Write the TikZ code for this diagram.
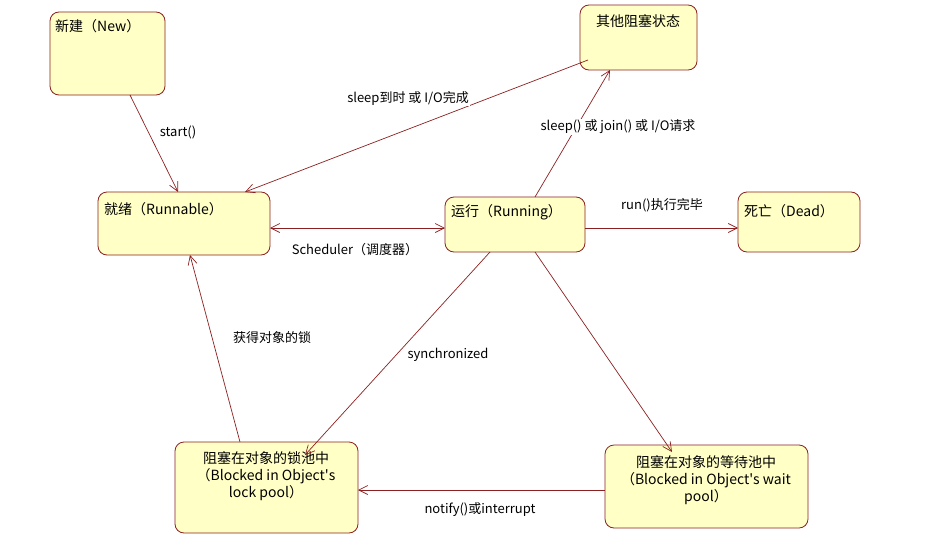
\documentclass[tikz,border=0pt]{standalone}
\usepackage{fontspec}
\setmainfont{Noto Sans CJK SC}
\usetikzlibrary{arrows.meta,calc}
\definecolor{bd}{HTML}{8B2020}
\definecolor{fl}{HTML}{FFFFC6}
\begin{document}
\begin{tikzpicture}[x=1pt,y=-1pt,
  st/.style={draw=bd,fill=fl,rounded corners=9pt,line width=0.8pt},
  tx/.style={font=\fontsize{14}{17}\selectfont,inner sep=0pt},
  lb/.style={font=\fontsize{13}{15}\selectfont,inner sep=1pt,fill=white},
  ar/.style={draw=bd,line width=0.7pt,-{Straight Barb[length=9pt,width=9pt]}}]
\useasboundingbox (0,0) rectangle (934,546);
\path[st] (50,12) rectangle (165,95);
\coordinate (new) at (107,53);
\path[st] (580,5) rectangle (697,70); \coordinate (oth) at (638,37);
\path[st] (98,192) rectangle (270,255); \coordinate (rbl) at (184,223);
\path[st] (445,197) rectangle (585,252); \coordinate (run) at (515,224);
\path[st] (738,192) rectangle (860,252); \coordinate (ded) at (799,222);
\path[st] (175,442) rectangle (358,533); \coordinate (lck) at (266,487);
\path[st] (605,445) rectangle (808,528); \coordinate (wat) at (706,486);
\node[tx,anchor=north west] (t1) at (55,19) {新建（New）};
\node[tx,anchor=north] (t2) at (638,14) {其他阻塞状态};
\node[tx,anchor=north west] (t3) at (104,202) {就绪（Runnable）};
\node[tx,anchor=north west] (t4) at (451,204) {运行（Running）};
\node[tx,anchor=north west] (t5) at (744,204) {死亡（Dead）};
\node[tx,anchor=north,align=center] (t6) at (266,451) {阻塞在对象的锁池中\\（Blocked in Object\textquotesingle s\\lock pool）};
\node[tx,anchor=north,align=center] (t7) at (706,455) {阻塞在对象的等待池中\\（Blocked in Object\textquotesingle s wait\\pool）};
\coordinate (a1) at (130,95); \coordinate (b1) at (178,192);
\draw[ar] (a1) -- (b1);
\node[lb] (l1) at (178,132) {start()};
\coordinate (a2) at (588,60); \coordinate (b2) at (245,192);
\draw[ar] (a2) -- (b2);
\node[lb] (l2) at (408,98) {sleep到时 或 I/O完成};
\coordinate (a3) at (535,197); \coordinate (b3) at (610,70);
\draw[ar] (a3) -- (b3);
\node[lb] (l3) at (618,127) {sleep() 或 join() 或 I/O请求};
\coordinate (a4) at (270,228); \coordinate (b4) at (445,228);
\draw[ar,{Straight Barb[length=9pt,width=9pt]}-{Straight Barb[length=9pt,width=9pt]}] (a4) -- (b4);
\node[lb] (l4) at (355,250) {Scheduler（调度器）};
\coordinate (a5) at (585,228); \coordinate (b5) at (738,228);
\draw[ar] (a5) -- (b5);
\node[lb] (l5) at (662,205) {run()执行完毕};
\coordinate (a6) at (490,252); \coordinate (b6) at (305,455);
\draw[ar] (a6) -- (b6);
\node[lb,fill=none] (l6) at (448,355) {synchronized};
\coordinate (a7) at (535,252); \coordinate (b7) at (672,452);
\draw[ar] (a7) -- (b7);
\coordinate (a8) at (605,490); \coordinate (b8) at (358,490);
\draw[ar] (a8) -- (b8);
\node[lb] (l8) at (480,510) {notify()或interrupt};
\coordinate (a9) at (240,442); \coordinate (b9) at (190,255);
\draw[ar] (a9) -- (b9);
\node[lb,fill=none] (l9) at (272,338) {获得对象的锁};
\end{tikzpicture}
\end{document}
